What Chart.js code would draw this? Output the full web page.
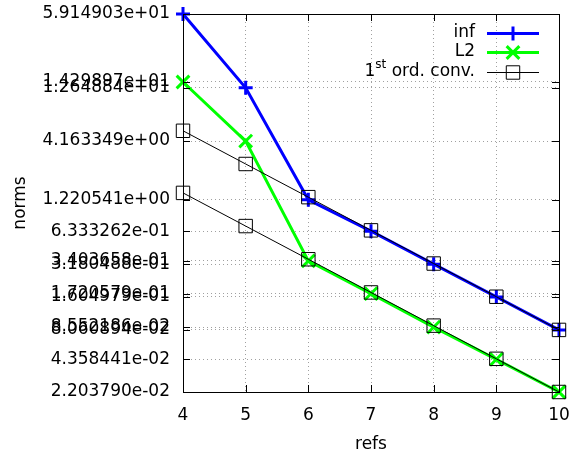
<!DOCTYPE html>
<html>
<head>
<meta charset="utf-8">
<script src="https://cdn.jsdelivr.net/npm/chart.js@4.4.0/dist/chart.umd.min.js"></script>
<style>
  html, body { margin: 0; padding: 0; background: #fff; }
  #wrap { width: 571px; height: 458px; position: relative; }
</style>
</head>
<body>
<div id="wrap"><canvas id="chart"></canvas></div>
<script>
// data
const refs = [4, 5, 6, 7, 8, 9, 10];
const infNorm = [59.14903, 12.64884, 1.220541, 0.6333262, 0.3180488, 0.1604979, 0.08060894];
const l2Norm = [14.29897, 4.163349, 0.3403658, 0.1720579, 0.08552186, 0.04358441, 0.02203790];
// reference slopes (1st order convergence)
const convUpper = [5.159, 2.579, 1.290, 0.6449, 0.3224, 0.1612, 0.08061];
const convLower = [1.410, 0.7052, 0.3526, 0.1763, 0.08815, 0.04407, 0.02204];
// y tick marks sit at the norm values
const yTickValues = [59.14903, 14.29897, 12.64884, 4.163349, 1.220541, 0.6333262,
    0.3403658, 0.3180488, 0.1720579, 0.1604979, 0.08552186, 0.08060894, 0.04358441, 0.02203790];

const FONT = "DejaVu Sans";
const FS = 17;

function fmtExp(v) {
    return v.toExponential(6).replace(/e([+-])(\d)$/, "e$10$2");
}

function pts(values) {
    return refs.map((r, i) => ({ x: r, y: values[i] }));
}

// frame + inward tics like gnuplot
const framePlugin = {
    id: "frame",
    afterDatasetsDraw(chart) {
        const { ctx, chartArea: a, scales } = chart;
        const len = 7;
        ctx.save();
        ctx.strokeStyle = "#000";
        ctx.lineWidth = 1;
        ctx.beginPath();
        scales.x.ticks.forEach(t => {
            const px = Math.round(scales.x.getPixelForValue(t.value)) + 0.5;
            ctx.moveTo(px, a.top); ctx.lineTo(px, a.top + len);
            ctx.moveTo(px, a.bottom); ctx.lineTo(px, a.bottom - len);
        });
        yTickValues.forEach(v => {
            const py = Math.round(scales.y.getPixelForValue(v)) + 0.5;
            ctx.moveTo(a.left, py); ctx.lineTo(a.left + len, py);
            ctx.moveTo(a.right, py); ctx.lineTo(a.right - len, py);
        });
        ctx.stroke();
        ctx.strokeRect(Math.round(a.left) + 0.5, Math.round(a.top) + 0.5,
            Math.round(a.right - a.left), Math.round(a.bottom - a.top));
        ctx.restore();
    }
};

// legend drawn inside the plot, top right
const keyPlugin = {
    id: "key",
    afterDraw(chart) {
        const { ctx } = chart;
        const textRight = 475, x0 = 487, x1 = 539, xm = 513;
        const rows = [
            { ds: 0, y: 33, text: "inf" },
            { ds: 1, y: 52, text: "L2" },
            { ds: 2, y: 72, text: null },
        ];
        const big = FS + "px " + FONT, small = "12px " + FONT;
        ctx.save();
        ctx.textBaseline = "middle";
        ctx.fillStyle = "#000";
        rows.forEach(r => {
            const ds = chart.data.datasets[r.ds];
            if (r.text) {
                ctx.font = big;
                ctx.textAlign = "right";
                ctx.fillText(r.text, textRight, r.y);
            } else {
                ctx.textAlign = "left";
                ctx.font = big;
                const wOne = ctx.measureText("1").width;
                const wRest = ctx.measureText(" ord. conv.").width;
                ctx.font = small;
                const wSt = ctx.measureText("st").width;
                let x = textRight - wOne - wSt - wRest;
                ctx.font = big;
                ctx.fillText("1", x, r.y);
                x += wOne;
                ctx.font = small;
                ctx.fillText("st", x, r.y - 7);
                x += wSt;
                ctx.font = big;
                ctx.fillText(" ord. conv.", x, r.y);
            }
            ctx.strokeStyle = ds.borderColor;
            ctx.lineWidth = ds.borderWidth;
            ctx.beginPath();
            ctx.moveTo(x0, r.y + 0.5);
            ctx.lineTo(x1, r.y + 0.5);
            ctx.stroke();
            ctx.fillStyle = ds.pointBackgroundColor;
            ctx.lineWidth = ds.pointBorderWidth;
            Chart.helpers.drawPoint(ctx, {
                pointStyle: ds.pointStyle,
                radius: ds.pointRadius,
                borderWidth: ds.pointBorderWidth,
                rotation: 0,
            }, xm, r.y + 0.5);
            ctx.fillStyle = "#000";
        });
        ctx.restore();
    }
};

new Chart(document.getElementById("chart"), {
    type: "line",
    data: {
        datasets: [
            {
                label: "inf",
                data: pts(infNorm),
                borderColor: "#0000ff",
                borderWidth: 3,
                pointStyle: "cross",
                pointRadius: 7,
                pointBorderWidth: 3,
                pointBorderColor: "#0000ff",
                pointBackgroundColor: "#0000ff",
                order: 2,
                clip: false,
            },
            {
                label: "L2",
                data: pts(l2Norm),
                borderColor: "#00ff00",
                borderWidth: 3,
                pointStyle: "crossRot",
                pointRadius: 9,
                pointBorderWidth: 3,
                pointBorderColor: "#00ff00",
                pointBackgroundColor: "#00ff00",
                order: 2,
                clip: false,
            },
            {
                label: "1st ord. conv.",
                data: pts(convUpper),
                borderColor: "#000",
                borderWidth: 1,
                pointStyle: "rect",
                pointRadius: 9.5,
                pointBorderWidth: 1,
                pointBorderColor: "#000",
                pointBackgroundColor: "rgba(0,0,0,0)",
                order: 1,
                clip: false,
            },
            {
                label: "conv2",
                data: pts(convLower),
                borderColor: "#000",
                borderWidth: 1,
                pointStyle: "rect",
                pointRadius: 9.5,
                pointBorderWidth: 1,
                pointBorderColor: "#000",
                pointBackgroundColor: "rgba(0,0,0,0)",
                order: 1,
                clip: false,
            },
        ],
    },
    options: {
        responsive: true,
        maintainAspectRatio: false,
        animation: false,
        layout: { padding: { top: 14, right: 9, left: 0, bottom: 0 } },
        plugins: {
            legend: { display: false },
            tooltip: { enabled: false },
        },
        scales: {
            x: {
                type: "linear",
                min: 4,
                max: 10,
                ticks: {
                    stepSize: 1,
                    color: "#000",
                    padding: 13,
                    font: { family: FONT, size: FS },
                },
                grid: {
                    color: "#a0a0a0",
                    drawTicks: false,
                },
                border: { display: false, dash: [1, 3] },
                title: {
                    display: true,
                    text: "refs",
                    color: "#000",
                    font: { family: FONT, size: FS },
                    padding: { top: 4, bottom: 3 },
                },
                afterFit(scale) {
                    scale.height = 66;
                    scale.paddingLeft = 0;
                    scale.paddingRight = 0;
                },
            },
            y: {
                type: "logarithmic",
                min: 0.0220379,
                max: 59.14903,
                afterBuildTicks(scale) {
                    scale.ticks = yTickValues.map(v => ({ value: v }));
                },
                ticks: {
                    autoSkip: false,
                    color: "#000",
                    padding: 13,
                    font: { family: FONT, size: FS },
                    callback: (v) => fmtExp(v),
                },
                grid: {
                    color: "#a0a0a0",
                    drawTicks: false,
                },
                border: { display: false, dash: [1, 3] },
                title: {
                    display: true,
                    text: "norms",
                    color: "#000",
                    font: { family: FONT, size: FS },
                    padding: { top: 10, bottom: 0 },
                },
                afterFit(scale) {
                    scale.width = 183;
                    scale.paddingTop = 0;
                    scale.paddingBottom = 0;
                },
            },
        },
    },
    plugins: [framePlugin, keyPlugin],
});
</script>
</body>
</html>
